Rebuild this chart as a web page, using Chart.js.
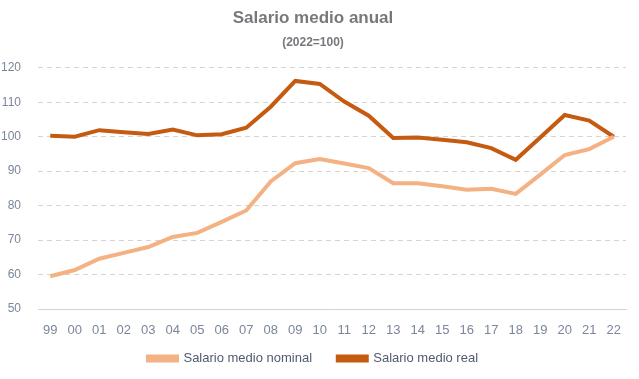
<!DOCTYPE html>
<html><head><meta charset="utf-8">
<script src="https://cdn.jsdelivr.net/npm/chart.js@4/dist/chart.umd.min.js"></script>
<style>html,body{margin:0;padding:0;background:#fff}#wrap{width:639px;height:379px}</style>
</head><body><div id="wrap"><canvas id="c" width="639" height="379"></canvas></div>
<script>
const categories = ["99","00","01","02","03","04","05","06","07","08","09","10","11","12","13","14","15","16","17","18","19","20","21","22"];
const nominal = [59.5,61.3,64.6,66.3,68.0,70.9,72.1,75.3,78.6,87.0,92.3,93.5,92.2,90.9,86.5,86.5,85.6,84.6,84.9,83.4,89.0,94.7,96.4,100];
const real = [100.3,100.0,101.9,101.3,100.8,102.1,100.4,100.7,102.6,108.7,116.2,115.3,110.2,106.1,99.6,99.8,99.1,98.4,96.7,93.3,99.8,106.3,104.7,100];
const yTicks = [50,60,70,80,90,100,110,120];
const FONT = "'Liberation Sans Narrow','Arial Narrow','Liberation Sans',Arial,sans-serif";
new Chart(document.getElementById('c'), {
  type: 'line',
  data: {
    labels: categories,
    datasets: [
      {label: 'Salario medio nominal', data: nominal, borderColor: '#F4B183', backgroundColor: '#F4B183', borderWidth: 4, pointRadius: 0, tension: 0},
      {label: 'Salario medio real', data: real, borderColor: '#C55A11', backgroundColor: '#C55A11', borderWidth: 4, pointRadius: 0, tension: 0}
    ]
  },
  options: {
    responsive: false, animation: false,
    layout: {padding: {left: 0, right: 13, top: 0, bottom: 4}},
    plugins: {
      title: {display: true, text: 'Salario medio anual', color: '#76787c', font: {family: FONT, size: 17, weight: 'bold'}, padding: {top: 8, bottom: 7}},
      subtitle: {display: true, text: '(2022=100)', color: '#76787c', font: {family: FONT, size: 12, weight: 'bold'}, padding: {top: 0, bottom: 18}},
      legend: {position: 'bottom', labels: {color: '#505a6e', font: {family: FONT, size: 13}, boxWidth: 29, boxHeight: 4, padding: 4,
        generateLabels: (chart) => {
          const items = Chart.defaults.plugins.legend.labels.generateLabels(chart);
          items[0].text = items[0].text + '      ';
          return items;
        }}},
      tooltip: {enabled: false}
    },
    scales: {
      x: {
        offset: true,
        afterFit: (s) => { s.height = 39; },
        grid: {display: false, drawTicks: false},
        border: {display: true, color: '#d9d0c9', width: 1},
        ticks: {color: '#7a869a', font: {family: FONT, size: 13}, padding: 14, maxRotation: 0, autoSkip: false}
      },
      y: {
        min: 50, max: 120,
        afterBuildTicks: (s) => { s.ticks = yTicks.map(v => ({value: v})); },
        afterFit: (s) => { s.width = 38; },
        grid: {color: '#d4d4d4', drawTicks: false, lineWidth: 1},
        border: {display: false, dash: [5,4]},
        ticks: {color: '#7a869a', font: {family: FONT, size: 12}, padding: 17}
      }
    }
  }
});
</script></body></html>
